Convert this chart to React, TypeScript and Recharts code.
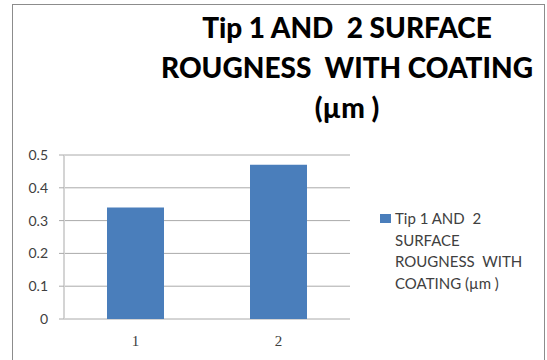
import { BarChart, Bar, XAxis, YAxis, CartesianGrid } from 'recharts'

const TIPS = ['1', '2']
const ROUGHNESS = [0.34, 0.47]
const Y_TICKS = [0, 0.1, 0.2, 0.3, 0.4, 0.5]
const TITLE_LINES = ['Tip 1 AND  2 SURFACE', 'ROUGNESS  WITH COATING', '(µm )']
const SERIES_NAME = 'Tip 1 AND  2 SURFACE ROUGNESS  WITH COATING (µm )'

const BAR_COLOR = '#4a7ebb'
const GRID_COLOR = '#aaaaaa'
const TEXT_COLOR = '#404040'
const FONT = 'Lato, "Liberation Sans", sans-serif'

const data = TIPS.map((tip, i) => ({ tip, value: ROUGHNESS[i] }))

function LegendBox() {
  return (
    <div style={{ position: 'absolute', left: 380, top: 208, display: 'flex', alignItems: 'flex-start' }}>
      <span
        style={{
          display: 'inline-block',
          width: 11,
          height: 9,
          background: BAR_COLOR,
          marginTop: 6,
          marginRight: 4,
          flexShrink: 0,
        }}
      />
      <div
        style={{
          width: 145,
          whiteSpace: 'pre-wrap',
          fontFamily: FONT,
          fontSize: 15,
          lineHeight: '21.5px',
          color: TEXT_COLOR,
        }}
      >
        {SERIES_NAME}
      </div>
    </div>
  )
}

export default function App() {
  return (
    <div
      style={{
        position: 'absolute',
        left: 0,
        top: 0,
        width: 547,
        height: 360,
        overflow: 'hidden',
        background: '#fff',
      }}
    >
      <div
        style={{
          position: 'absolute',
          left: 12,
          top: 4,
          width: 531,
          height: 370,
          border: '1px solid #8c8c8c',
        }}
      />
      <div
        style={{
          position: 'absolute',
          left: 120,
          top: 7,
          width: 454,
          textAlign: 'center',
          fontFamily: FONT,
          fontWeight: 900,
          fontSize: 28,
          lineHeight: '40px',
          color: '#000',
          whiteSpace: 'pre',
        }}
      >
        {TITLE_LINES.join('\n')}
      </div>
      <div style={{ position: 'absolute', left: 0, top: 0 }}>
        <BarChart
          width={547}
          height={360}
          data={data}
          margin={{ top: 155, right: 197, bottom: 11, left: 10 }}
        >
          <CartesianGrid vertical={false} stroke={GRID_COLOR} />
          {/* tick marks sit on the category boundaries */}
          <XAxis
            xAxisId="edges"
            type="number"
            domain={[0, TIPS.length]}
            ticks={[0, 1, 2]}
            allowDataOverflow
            height={0}
            tick={false}
            tickSize={5}
            tickLine={{ stroke: GRID_COLOR }}
            axisLine={{ stroke: GRID_COLOR }}
          />
          <XAxis
            xAxisId="cat"
            dataKey="tip"
            height={30}
            axisLine={false}
            tickLine={false}
            tickSize={0}
            tickMargin={16}
            tick={{ fill: TEXT_COLOR, fontSize: 15, fontFamily: '"Liberation Serif", serif' }}
          />
          <YAxis
            width={54}
            domain={[0, 0.5]}
            ticks={Y_TICKS}
            interval={0}
            tickSize={5}
            tickMargin={11}
            axisLine={{ stroke: '#d4d4d4', strokeWidth: 2 }}
            tickLine={{ stroke: GRID_COLOR }}
            tick={{ fill: TEXT_COLOR, fontSize: 14, fontFamily: FONT }}
          />
          <Bar
            xAxisId="cat"
            dataKey="value"
            name={SERIES_NAME}
            fill={BAR_COLOR}
            barSize={57}
            isAnimationActive={false}
          />
        </BarChart>
      </div>
      <LegendBox />
    </div>
  )
}
